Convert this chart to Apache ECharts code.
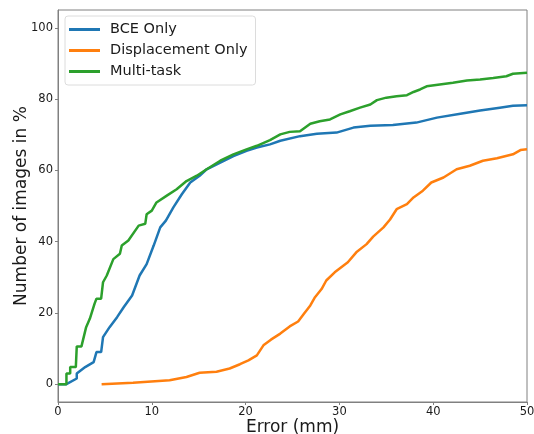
<!DOCTYPE html>
<html>
<head>
<meta charset="utf-8">
<script src="https://cdn.jsdelivr.net/npm/echarts@6/dist/echarts.min.js"></script>
<style>
  html, body { margin: 0; padding: 0; background: #fff; }
  #chart { width: 534px; height: 434px; }
</style>
</head>
<body>
<div id="chart"></div>
<script>
// Cumulative error curves: [error mm, % of images]
const seriesNames = ["BCE Only", "Displacement Only", "Multi-task"];
const seriesColors = ["#1f77b4", "#ff7f0e", "#2ca02c"];
const yTicks = [0, 20, 40, 60, 80, 100];

const bceOnly = [
  [0, 0], [0.9, 0], [2, 1.6], [2, 3], [2.9, 4.8], [3.8, 6.2], [4.1, 9], [4.6, 9],
  [4.8, 13.2], [5.5, 16], [6.3, 18.8], [7, 21.6], [7.9, 24.9], [8.7, 30.5],
  [9.45, 33.7], [10.2, 38.9], [10.9, 44], [11.5, 45.9], [12.3, 49.6], [13.2, 53.3],
  [14.1, 56.6], [15.1, 58.5], [15.85, 60.3], [17.3, 62.2], [18.7, 64], [20.1, 65.5],
  [21.2, 66.4], [22.6, 67.3], [23.7, 68.3], [25.8, 69.6], [27.6, 70.3], [29.7, 70.6],
  [31.5, 72], [33.3, 72.5], [35.7, 72.7], [38.2, 73.4], [40.4, 74.8], [42.9, 75.9],
  [45, 76.8], [47.1, 77.6], [48.5, 78.1], [50, 78.3]
];

const displacementOnly = [
  [4.65, 0], [8, 0.4], [11.9, 1.1], [13.7, 2], [15.1, 3.2], [16.9, 3.5], [18.3, 4.4],
  [19.4, 5.6], [20.3, 6.7], [21.2, 8.1], [21.9, 10.9], [22.7, 12.5], [23.7, 14.2],
  [24.7, 16.2], [25.6, 17.6], [26.2, 19.7], [26.9, 22.1], [27.4, 24.4], [28.1, 26.7],
  [28.6, 29.1], [29.5, 31.4], [30.9, 34.2], [31.8, 37], [32.9, 39.3], [33.6, 41.4],
  [34.7, 44], [35.4, 46.2], [36.1, 49.1], [37.2, 50.5], [37.9, 52.4], [38.9, 54.3],
  [39.8, 56.6], [41.1, 58], [42.5, 60.3], [43.9, 61.3], [45.3, 62.7], [46.8, 63.4],
  [48.5, 64.5], [49.3, 65.7], [50, 65.9]
];

const multiTask = [
  [0, 0], [0.9, 0], [0.9, 3], [1.3, 3], [1.3, 4.8], [1.9, 4.8], [2, 10.6], [2.5, 10.6],
  [3, 16], [3.4, 18.4], [3.9, 22.6], [4.1, 24], [4.6, 24], [4.8, 28.6], [5.2, 30.5],
  [5.9, 35.1], [6.6, 36.6], [6.8, 38.9], [7.5, 40.3], [8.6, 44.5], [9.3, 45],
  [9.45, 47.7], [10, 48.7], [10.5, 51], [11.6, 52.9], [12.65, 54.7], [13.7, 57],
  [14.8, 58.5], [15.85, 60.3], [17.3, 62.7], [18.7, 64.5], [20.1, 65.9], [21.2, 66.9],
  [22.6, 68.5], [23.7, 70.1], [24.7, 70.8], [25.8, 71], [26.9, 73.1], [27.9, 73.8],
  [29, 74.3], [30.1, 75.7], [31.1, 76.6], [32.2, 77.6], [33.3, 78.5], [34, 79.7],
  [35, 80.4], [36.1, 80.8], [37.2, 81.1], [37.9, 82], [38.6, 82.7], [39.3, 83.6],
  [40.7, 84.1], [42.1, 84.6], [43.6, 85.2], [45, 85.5], [46.4, 85.9], [47.8, 86.4],
  [48.5, 87.1], [50, 87.4]
];

const chart = echarts.init(document.getElementById("chart"));

const axisColor = "#808080";
const font = "DejaVu Sans";

const option = {
  animation: false,
  textStyle: { fontFamily: font },
  grid: {
    left: 58, right: 7, top: 10, bottom: 32,
    outerBoundsMode: "none",
    containLabel: false,
    show: true, borderColor: axisColor, borderWidth: 1
  },
  legend: {
    left: 65, top: 16, orient: "vertical",
    data: seriesNames,
    itemWidth: 31, itemHeight: 3, itemGap: 6,
    icon: "rect",
    padding: [6, 8, 6, 4],
    borderColor: "#dcdcdc", borderWidth: 1, borderRadius: 3,
    backgroundColor: "rgba(255,255,255,0.8)",
    textStyle: { fontSize: 14.5, color: "#1a1a1a", fontFamily: font, padding: [0, 0, 0, 5] }
  },
  xAxis: {
    type: "value", min: 0, max: 50, interval: 10,
    name: "Error (mm)", nameLocation: "middle", nameGap: 17,
    nameMoveOverlap: false,
    nameTextStyle: { fontSize: 17, color: "#1a1a1a", fontFamily: font },
    axisLine: { show: true, onZero: false, lineStyle: { color: axisColor } },
    axisTick: { show: true, length: 3, lineStyle: { color: axisColor } },
    axisLabel: { fontSize: 11.5, color: "#1a1a1a", margin: 4 },
    splitLine: { show: false }
  },
  yAxis: {
    type: "value", min: -5, max: 105,
    name: "Number of images in %", nameLocation: "middle", nameGap: 28,
    nameMoveOverlap: false,
    nameTextStyle: { fontSize: 17, color: "#1a1a1a", fontFamily: font },
    axisLine: { show: true, onZero: false, lineStyle: { color: axisColor } },
    axisTick: { show: true, length: 3, lineStyle: { color: axisColor }, customValues: yTicks },
    axisLabel: { fontSize: 11.5, color: "#1a1a1a", margin: 5, customValues: yTicks },
    splitLine: { show: false }
  },
  series: [bceOnly, displacementOnly, multiTask].map((d, i) => ({
    name: seriesNames[i],
    type: "line",
    data: d,
    showSymbol: false,
    color: seriesColors[i],
    lineStyle: { width: 2.5, color: seriesColors[i] }
  }))
};

chart.setOption(option);
</script>
</body>
</html>
